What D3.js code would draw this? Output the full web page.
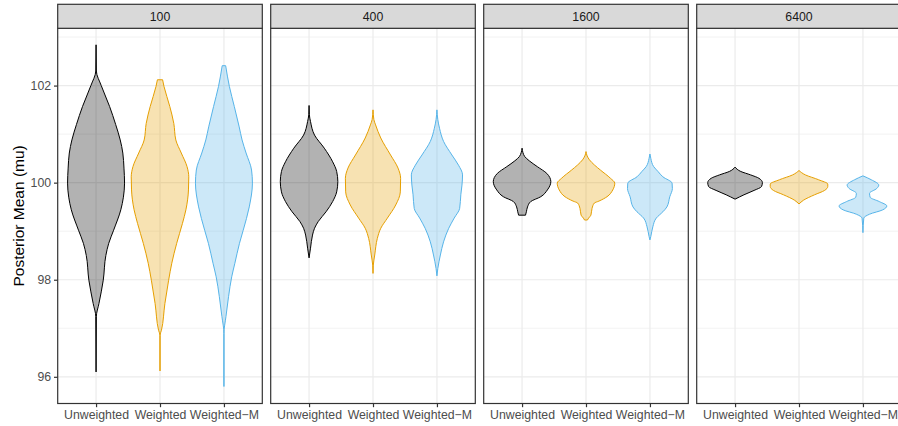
<!DOCTYPE html>
<html>
<head>
<meta charset="utf-8">
<script src="https://cdn.jsdelivr.net/npm/d3@7"></script>
<style>
  html, body { margin: 0; padding: 0; background: #ffffff; }
  svg { display: block; font-family: "Liberation Sans", Arial, sans-serif; }
</style>
</head>
<body>
<svg id="chart" width="898" height="426"></svg>
<script>
// ---------------- data ----------------
const panels = ["100", "400", "1600", "6400"];
const methods = ["Unweighted", "Weighted", "Weighted\u2212M"];
const colors = ["#000000", "#E69F00", "#56B4E9"];
const yTicks = [96, 98, 100, 102];
const yMinor = [97, 99, 101, 103];

// violin outlines: [posterior mean, relative half-width], top to bottom
const dens100 = [
  [[102.84,0],[102.3,0.01],[102.0,0.18],[101.57,0.47],[101.2,0.68],[100.88,0.84],[100.61,0.93],[100.3,0.97],[99.99,0.99],[99.7,0.95],[99.44,0.86],[99.02,0.61],[98.75,0.44],[98.5,0.34],[97.99,0.25],[97.51,0.1],[97.24,0.01],[96.10,0]],
  [[102.12,0.09],[101.98,0.14],[101.57,0.34],[101.22,0.48],[100.88,0.55],[100.61,0.74],[100.33,0.94],[100.12,1.0],[99.85,0.99],[99.44,0.9],[99.16,0.78],[98.75,0.58],[98.34,0.41],[97.99,0.3],[97.51,0.17],[96.96,0.05],[96.85,0],[96.12,0]],
  [[102.41,0.06],[101.98,0.19],[101.57,0.36],[101.15,0.53],[100.88,0.63],[100.61,0.77],[100.26,0.96],[99.99,0.99],[99.5,0.88],[99.02,0.67],[98.75,0.54],[98.34,0.38],[98.06,0.27],[97.65,0.16],[97.24,0.07],[96.89,0],[95.80,0]]
];
const dens400 = [
  [[101.59,0],[101.4,0.01],[101.26,0.05],[100.98,0.19],[100.71,0.53],[100.43,0.82],[100.23,0.96],[100.02,1.0],[99.81,0.96],[99.61,0.82],[99.40,0.59],[99.2,0.32],[99.06,0.19],[98.92,0.12],[98.65,0.05],[98.45,0]],
  [[101.5,0],[101.3,0.03],[101.19,0.09],[100.92,0.27],[100.57,0.61],[100.3,0.87],[100.09,0.96],[99.81,0.95],[99.54,0.79],[99.27,0.5],[99.06,0.27],[98.85,0.15],[98.51,0.06],[98.3,0.01],[98.13,0]],
  [[101.5,0],[101.3,0.03],[101.12,0.09],[100.85,0.23],[100.57,0.52],[100.36,0.75],[100.16,0.89],[99.95,0.87],[99.75,0.83],[99.47,0.79],[99.27,0.6],[99.06,0.41],[98.78,0.23],[98.51,0.12],[98.23,0.03],[98.08,0]]
];
const dens1600 = [
  [[100.71,0],[100.62,0.03],[100.54,0.09],[100.45,0.25],[100.33,0.53],[100.19,0.86],[100.02,1.0],[99.85,0.88],[99.71,0.65],[99.61,0.3],[99.5,0.19],[99.4,0.15],[99.33,0.12]],
  [[100.64,0],[100.55,0.04],[100.47,0.12],[100.36,0.3],[100.26,0.5],[100.09,0.85],[99.99,1.0],[99.85,0.93],[99.71,0.73],[99.62,0.45],[99.58,0.29],[99.47,0.21],[99.33,0.17],[99.27,0.09],[99.23,0.05]],
  [[100.59,0],[100.5,0.03],[100.33,0.13],[100.23,0.28],[100.12,0.45],[99.99,0.77],[99.88,0.78],[99.71,0.69],[99.5,0.59],[99.4,0.45],[99.27,0.22],[99.09,0.1],[98.89,0.03],[98.82,0]]
];
const dens6400 = [
  [[100.32,0],[100.23,0.2],[100.16,0.54],[100.09,0.83],[100.0,0.95],[99.92,0.92],[99.84,0.66],[99.75,0.31],[99.66,0]],
  [[100.25,0],[100.16,0.22],[100.06,0.68],[99.97,1.0],[99.92,1.0],[99.84,0.89],[99.75,0.54],[99.64,0.16],[99.56,0]],
  [[100.14,0],[100.06,0.29],[99.95,0.55],[99.88,0.48],[99.78,0.23],[99.70,0.25],[99.61,0.57],[99.52,0.83],[99.44,0.69],[99.35,0.23],[99.27,0.03],[98.97,0]]
];
const densities = [dens100, dens400, dens1600, dens6400];

// ---------------- layout ----------------
const svg = d3.select("#chart");
const W = 898, H = 426;
const plotTop = 28.3, plotBottom = 403.5, stripTop = 4.3;
const axisFont = "12.3px";
svg.append("rect").attr("width", W).attr("height", H).attr("fill", "#ffffff");

const fx = d3.scaleBand().domain(panels).range([57.7, 901.3]).paddingInner(8.4 / 213).paddingOuter(0);
const pw = fx.bandwidth();
const x = d3.scalePoint().domain(methods).range([0, pw]).padding(0.6);
const y = d3.scaleLinear().domain([95.45, 103.18]).range([plotBottom, plotTop]);
const halfMax = 0.45 * x.step();

panels.forEach((p, pi) => {
  const g = svg.append("g").attr("transform", `translate(${fx(p)},0)`);
  g.append("rect").attr("x", 0).attr("y", plotTop).attr("width", pw).attr("height", plotBottom - plotTop).attr("fill", "#ffffff");
  // minor grid
  g.selectAll(".minor").data(yMinor.filter(v => v < y.domain()[1])).enter().append("line")
    .attr("x1", 0).attr("x2", pw).attr("y1", d => y(d)).attr("y2", d => y(d))
    .attr("stroke", "#EBEBEB").attr("stroke-width", 0.6);
  // major grid
  g.selectAll(".majorY").data(yTicks).enter().append("line")
    .attr("x1", 0).attr("x2", pw).attr("y1", d => y(d)).attr("y2", d => y(d))
    .attr("stroke", "#EBEBEB").attr("stroke-width", 1.2);
  g.selectAll(".majorX").data(methods).enter().append("line")
    .attr("x1", d => x(d)).attr("x2", d => x(d)).attr("y1", plotTop).attr("y2", plotBottom)
    .attr("stroke", "#EBEBEB").attr("stroke-width", 1.2);

  // violins
  densities[pi].forEach((prof, mi) => {
    const cx = x(methods[mi]);
    const area = d3.area()
      .curve(d3.curveMonotoneY)
      .y(d => y(d[0]))
      .x0(d => cx - halfMax * d[1])
      .x1(d => cx + halfMax * d[1]);
    g.append("path").datum(prof).attr("d", area)
      .attr("fill", colors[mi]).attr("fill-opacity", 0.3)
      .attr("stroke", colors[mi]).attr("stroke-width", 1.0).attr("stroke-linejoin", "round");
  });

  // panel border
  g.append("rect").attr("x", 0).attr("y", plotTop).attr("width", pw).attr("height", plotBottom - plotTop)
    .attr("fill", "none").attr("stroke", "#333333").attr("stroke-width", 1.2);
  // strip
  g.append("rect").attr("x", 0).attr("y", stripTop).attr("width", pw).attr("height", plotTop - stripTop)
    .attr("fill", "#D9D9D9").attr("stroke", "#333333").attr("stroke-width", 1.2);
  g.append("text").attr("x", pw / 2).attr("y", (stripTop + plotTop) / 2).attr("dy", "0.36em")
    .attr("text-anchor", "middle").attr("font-size", axisFont).attr("fill", "#1A1A1A").text(p);

  // x axis
  const xa = g.append("g").attr("transform", `translate(0,${plotBottom})`)
    .call(d3.axisBottom(x).tickSize(3.7).tickPadding(2.6));
  xa.select(".domain").remove();
  xa.selectAll(".tick line").attr("stroke", "#333333").attr("stroke-width", 1.2);
  xa.selectAll(".tick text").attr("fill", "#4D4D4D").attr("font-size", axisFont)
    .attr("font-family", "Liberation Sans, Arial, sans-serif");
});

// y axis
const ya = svg.append("g").attr("transform", `translate(${fx(panels[0])},0)`)
  .call(d3.axisLeft(y).tickValues(yTicks).tickSize(3.7).tickPadding(2.9));
ya.select(".domain").remove();
ya.selectAll(".tick line").attr("stroke", "#333333").attr("stroke-width", 1.2);
ya.selectAll(".tick text").attr("fill", "#4D4D4D").attr("font-size", axisFont)
  .attr("font-family", "Liberation Sans, Arial, sans-serif");

// y axis title
svg.append("text")
  .attr("transform", `translate(24,${(plotTop + plotBottom) / 2}) rotate(-90)`)
  .attr("text-anchor", "middle").attr("font-size", "15.5px").attr("fill", "#000000")
  .text("Posterior Mean (mu)");
</script>
</body>
</html>
